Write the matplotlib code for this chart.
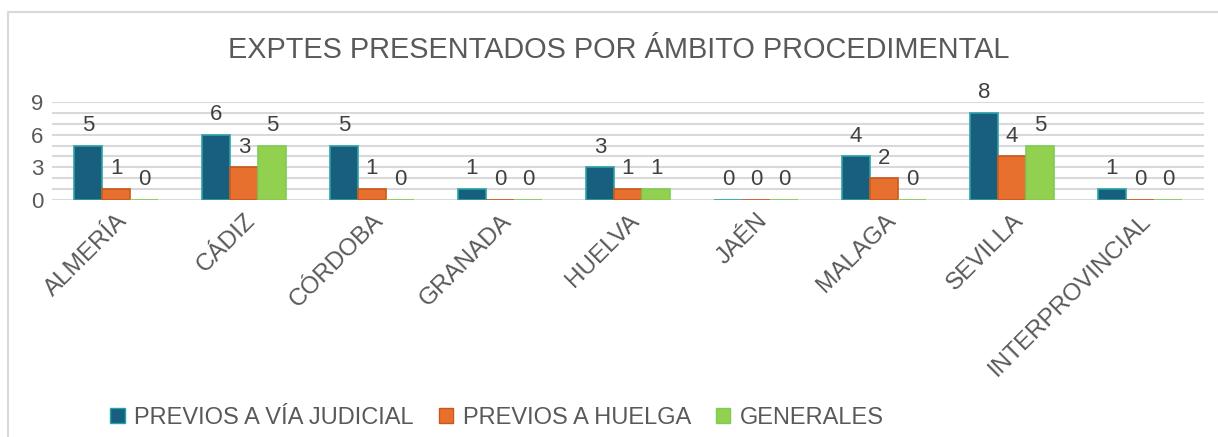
import numpy as np
import matplotlib.pyplot as plt
from matplotlib.lines import Line2D

plt.rcParams['font.family'] = ['Liberation Sans', 'DejaVu Sans']

# datos
provincias = ['ALMERÍA', 'CÁDIZ', 'CÓRDOBA', 'GRANADA', 'HUELVA', 'JAÉN',
              'MALAGA', 'SEVILLA', 'INTERPROVINCIAL']
via_judicial = [5, 6, 5, 1, 3, 0, 4, 8, 1]
huelga = [1, 3, 1, 0, 1, 0, 2, 4, 0]
generales = [0, 5, 0, 0, 1, 0, 0, 5, 0]

series = ['PREVIOS A VÍA JUDICIAL', 'PREVIOS A HUELGA', 'GENERALES']
colores = ['#175E7F', '#E8702E', '#92D050']
bordes = ['#2BA3A3', '#C9581C', '#7DCC55']
gris = '#595959'

fig = plt.figure(figsize=(12.18, 4.37), dpi=100)
ax = fig.add_axes([52/1218, 1-200/437, (1204-52)/1218, (200-102)/437])

x = np.arange(len(provincias))
w = 0.22
for i, (vals, c, b) in enumerate(zip([via_judicial, huelga, generales], colores, bordes)):
    pos = x + (i - 1) * w
    ax.bar(pos, vals, w, color=c, edgecolor=b, linewidth=1.2, zorder=3)
    for p, v in zip(pos, vals):
        ax.annotate(str(v), (p, v), xytext=(0, 7), textcoords='offset points',
                    ha='center', va='bottom', fontsize=16, color='#404040')

ax.set_xlim(-0.5, len(provincias) - 0.5)
ax.set_ylim(0, 9)
ax.set_yticks([0, 3, 6, 9])
ax.set_yticks(range(10), minor=True)
ax.grid(axis='y', which='both', color='#D9D9D9', linewidth=1.5, zorder=0)
ax.tick_params(axis='y', which='both', length=0, labelsize=16, labelcolor=gris, pad=6)
ax.tick_params(axis='x', length=0, labelsize=17.5, labelcolor=gris, pad=7)
ax.set_xticks(x)
ax.set_xticklabels(provincias, rotation=45, ha='right', rotation_mode='anchor')
for s in ax.spines.values():
    s.set_visible(False)

fig.text(0.508, 1-50/437, 'EXPTES PRESENTADOS POR ÁMBITO PROCEDIMENTAL',
         ha='center', va='center', fontsize=20.8, color=gris)

# marco
fig.add_artist(Line2D([8/1218, 8/1218, 1], [0, 1-12/437, 1-12/437],
                      transform=fig.transFigure, color='#D9D9D9', linewidth=1.5))

handles = [plt.Rectangle((0, 0), 1, 1, facecolor=c, edgecolor=b) for c, b in zip(colores, bordes)]
fig.legend(handles, series, loc='center', bbox_to_anchor=(497/1218, 1-418/437),
           ncol=3, frameon=False, fontsize=17, labelcolor=gris,
           handlelength=0.62, handleheight=0.62, handletextpad=0.4, columnspacing=1.05)

fig.savefig('out.png', dpi=100)
